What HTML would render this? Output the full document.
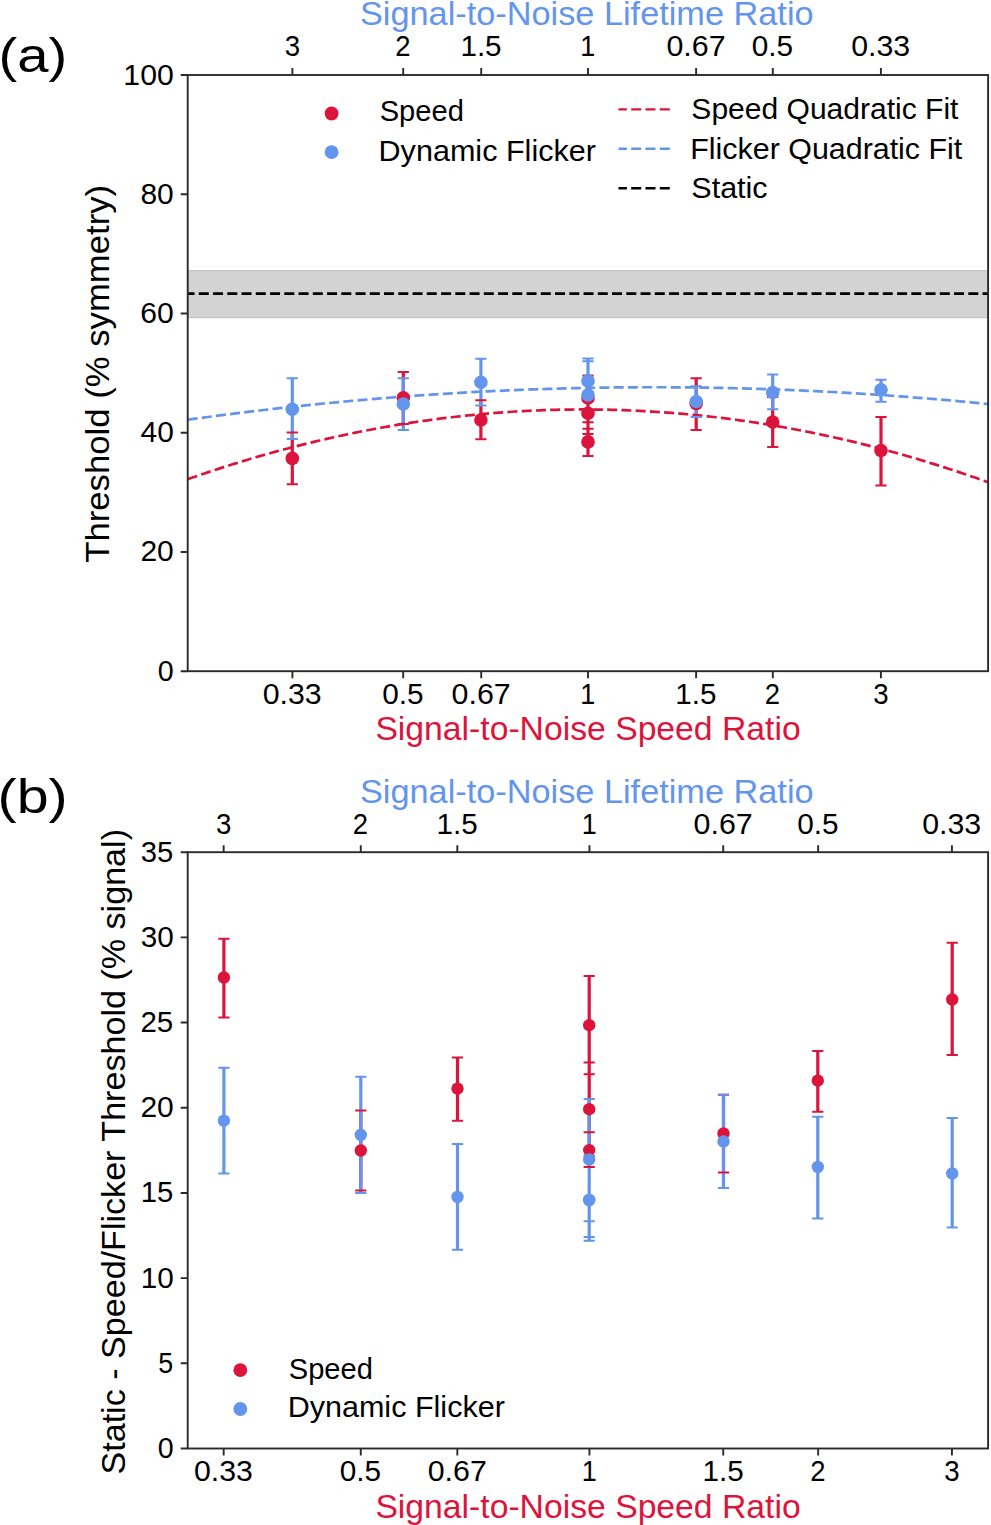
<!DOCTYPE html>
<html><head><meta charset="utf-8"><title>Threshold plots</title>
<style>
html,body{margin:0;padding:0;background:#fff;}
svg{display:block;}
text{font-family:"Liberation Sans",sans-serif;}
</style></head>
<body>
<svg width="991" height="1525" viewBox="0 0 991 1525">
<rect width="991" height="1525" fill="#fff"/>
<rect x="187.70" y="270.6" width="800.40" height="47.05" fill="#d3d3d3" stroke="#c4c4c4" stroke-width="1.2"/>
<clipPath id="ca"><rect x="187.70" y="75.00" width="800.40" height="596.20"/></clipPath>
<clipPath id="cb"><rect x="187.70" y="852.20" width="800.40" height="596.30"/></clipPath>
<g clip-path="url(#ca)">
<path d="M292.30,432.60V484.20M403.30,372.00V424.00M480.90,400.30V439.20M588.00,375.50V422.30M588.00,392.50V434.10M588.00,428.70V456.00M696.20,378.30V430.00M772.70,397.00V447.00M881.00,417.10V485.60" stroke="#dc143c" stroke-width="3.2" fill="none"/>
<path d="M292.30,378.20V439.00M403.30,378.30V430.00M480.90,358.80V405.60M588.00,358.60V400.00M588.00,361.20V401.00M696.20,386.20V417.00M772.70,374.50V409.30M881.00,379.70V401.70" stroke="#6495ed" stroke-width="3.2" fill="none"/>
<path d="M187.70,479.22L191.70,477.82L195.70,476.43L199.70,475.06L203.70,473.70L207.70,472.35L211.70,471.02L215.70,469.71L219.70,468.40L223.70,467.11L227.70,465.84L231.70,464.58L235.70,463.34L239.70,462.10L243.70,460.89L247.70,459.68L251.70,458.50L255.70,457.32L259.70,456.16L263.70,455.02L267.70,453.88L271.70,452.77L275.70,451.66L279.70,450.57L283.70,449.50L287.70,448.44L291.70,447.39L295.70,446.36L299.70,445.34L303.70,444.34L307.70,443.35L311.70,442.37L315.70,441.41L319.70,440.47L323.70,439.54L327.70,438.62L331.70,437.71L335.70,436.82L339.70,435.95L343.70,435.09L347.70,434.24L351.70,433.41L355.70,432.59L359.70,431.78L363.70,430.99L367.70,430.22L371.70,429.46L375.70,428.71L379.70,427.98L383.70,427.26L387.70,426.55L391.70,425.86L395.70,425.19L399.70,424.53L403.70,423.88L407.70,423.24L411.70,422.62L415.70,422.02L419.70,421.43L423.70,420.85L427.70,420.29L431.70,419.74L435.70,419.21L439.70,418.69L443.70,418.18L447.70,417.69L451.70,417.22L455.70,416.75L459.70,416.31L463.70,415.87L467.70,415.45L471.70,415.05L475.70,414.65L479.70,414.28L483.70,413.91L487.70,413.57L491.70,413.23L495.70,412.91L499.70,412.60L503.70,412.31L507.70,412.04L511.70,411.77L515.70,411.52L519.70,411.29L523.70,411.07L527.70,410.86L531.70,410.67L535.70,410.49L539.70,410.33L543.70,410.18L547.70,410.04L551.70,409.92L555.70,409.82L559.70,409.72L563.70,409.65L567.70,409.58L571.70,409.53L575.70,409.50L579.70,409.47L583.70,409.47L587.70,409.48L591.70,409.50L595.70,409.53L599.70,409.58L603.70,409.65L607.70,409.72L611.70,409.82L615.70,409.92L619.70,410.05L623.70,410.18L627.70,410.33L631.70,410.49L635.70,410.67L639.70,410.86L643.70,411.07L647.70,411.29L651.70,411.53L655.70,411.78L659.70,412.04L663.70,412.32L667.70,412.61L671.70,412.92L675.70,413.24L679.70,413.57L683.70,413.92L687.70,414.28L691.70,414.66L695.70,415.05L699.70,415.46L703.70,415.88L707.70,416.31L711.70,416.76L715.70,417.22L719.70,417.70L723.70,418.19L727.70,418.70L731.70,419.22L735.70,419.75L739.70,420.30L743.70,420.86L747.70,421.44L751.70,422.03L755.70,422.63L759.70,423.25L763.70,423.89L767.70,424.53L771.70,425.20L775.70,425.87L779.70,426.56L783.70,427.27L787.70,427.99L791.70,428.72L795.70,429.47L799.70,430.23L803.70,431.01L807.70,431.80L811.70,432.60L815.70,433.42L819.70,434.25L823.70,435.10L827.70,435.96L831.70,436.84L835.70,437.73L839.70,438.63L843.70,439.55L847.70,440.48L851.70,441.43L855.70,442.39L859.70,443.36L863.70,444.35L867.70,445.36L871.70,446.37L875.70,447.41L879.70,448.45L883.70,449.51L887.70,450.59L891.70,451.68L895.70,452.78L899.70,453.90L903.70,455.03L907.70,456.18L911.70,457.34L915.70,458.51L919.70,459.70L923.70,460.90L927.70,462.12L931.70,463.35L935.70,464.60L939.70,465.86L943.70,467.13L947.70,468.42L951.70,469.72L955.70,471.04L959.70,472.37L963.70,473.72L967.70,475.08L971.70,476.45L975.70,477.84L979.70,479.24L983.70,480.66L987.70,482.09" stroke="#dc143c" stroke-width="2.7" fill="none" stroke-dasharray="10 4.25"/>
<path d="M187.70,419.75L191.70,419.19L195.70,418.64L199.70,418.09L203.70,417.55L207.70,417.01L211.70,416.48L215.70,415.96L219.70,415.43L223.70,414.92L227.70,414.40L231.70,413.89L235.70,413.39L239.70,412.89L243.70,412.40L247.70,411.91L251.70,411.43L255.70,410.95L259.70,410.47L263.70,410.00L267.70,409.54L271.70,409.08L275.70,408.62L279.70,408.17L283.70,407.73L287.70,407.28L291.70,406.85L295.70,406.42L299.70,405.99L303.70,405.57L307.70,405.15L311.70,404.74L315.70,404.33L319.70,403.93L323.70,403.53L327.70,403.14L331.70,402.75L335.70,402.37L339.70,401.99L343.70,401.61L347.70,401.25L351.70,400.88L355.70,400.52L359.70,400.17L363.70,399.82L367.70,399.47L371.70,399.13L375.70,398.80L379.70,398.47L383.70,398.14L387.70,397.82L391.70,397.50L395.70,397.19L399.70,396.88L403.70,396.58L407.70,396.29L411.70,395.99L415.70,395.71L419.70,395.42L423.70,395.15L427.70,394.87L431.70,394.60L435.70,394.34L439.70,394.08L443.70,393.83L447.70,393.58L451.70,393.33L455.70,393.10L459.70,392.86L463.70,392.63L467.70,392.41L471.70,392.19L475.70,391.97L479.70,391.76L483.70,391.55L487.70,391.35L491.70,391.16L495.70,390.96L499.70,390.78L503.70,390.60L507.70,390.42L511.70,390.25L515.70,390.08L519.70,389.92L523.70,389.76L527.70,389.60L531.70,389.46L535.70,389.31L539.70,389.17L543.70,389.04L547.70,388.91L551.70,388.79L555.70,388.67L559.70,388.55L563.70,388.44L567.70,388.34L571.70,388.24L575.70,388.14L579.70,388.05L583.70,387.96L587.70,387.88L591.70,387.81L595.70,387.73L599.70,387.67L603.70,387.60L607.70,387.55L611.70,387.49L615.70,387.45L619.70,387.40L623.70,387.37L627.70,387.33L631.70,387.30L635.70,387.28L639.70,387.26L643.70,387.25L647.70,387.24L651.70,387.23L655.70,387.23L659.70,387.24L663.70,387.25L667.70,387.26L671.70,387.28L675.70,387.31L679.70,387.34L683.70,387.37L687.70,387.41L691.70,387.45L695.70,387.50L699.70,387.55L703.70,387.61L707.70,387.67L711.70,387.74L715.70,387.81L719.70,387.89L723.70,387.97L727.70,388.06L731.70,388.15L735.70,388.25L739.70,388.35L743.70,388.45L747.70,388.56L751.70,388.68L755.70,388.80L759.70,388.93L763.70,389.05L767.70,389.19L771.70,389.33L775.70,389.47L779.70,389.62L783.70,389.78L787.70,389.93L791.70,390.10L795.70,390.27L799.70,390.44L803.70,390.62L807.70,390.80L811.70,390.99L815.70,391.18L819.70,391.38L823.70,391.58L827.70,391.78L831.70,391.99L835.70,392.21L839.70,392.43L843.70,392.66L847.70,392.89L851.70,393.12L855.70,393.36L859.70,393.61L863.70,393.86L867.70,394.11L871.70,394.37L875.70,394.64L879.70,394.90L883.70,395.18L887.70,395.46L891.70,395.74L895.70,396.03L899.70,396.32L903.70,396.62L907.70,396.92L911.70,397.23L915.70,397.54L919.70,397.86L923.70,398.18L927.70,398.51L931.70,398.84L935.70,399.17L939.70,399.51L943.70,399.86L947.70,400.21L951.70,400.56L955.70,400.92L959.70,401.29L963.70,401.66L967.70,402.03L971.70,402.41L975.70,402.80L979.70,403.18L983.70,403.58L987.70,403.98" stroke="#6495ed" stroke-width="2.7" fill="none" stroke-dasharray="10 4.25"/>
<path d="M187.70,293.7H988.10" stroke="#000" stroke-width="2.8" fill="none" stroke-dasharray="10 4.25" stroke-dashoffset="3.15"/>
<path d="M286.70,432.60h11.20M286.70,484.20h11.20M397.70,372.00h11.20M397.70,424.00h11.20M475.30,400.30h11.20M475.30,439.20h11.20M582.40,375.50h11.20M582.40,422.30h11.20M582.40,392.50h11.20M582.40,434.10h11.20M582.40,428.70h11.20M582.40,456.00h11.20M690.60,378.30h11.20M690.60,430.00h11.20M767.10,397.00h11.20M767.10,447.00h11.20M875.40,417.10h11.20M875.40,485.60h11.20" stroke="#dc143c" stroke-width="2.0" fill="none"/>
<path d="M286.70,378.20h11.20M286.70,439.00h11.20M397.70,378.30h11.20M397.70,430.00h11.20M475.30,358.80h11.20M475.30,405.60h11.20M582.40,358.60h11.20M582.40,400.00h11.20M582.40,361.20h11.20M582.40,401.00h11.20M690.60,386.20h11.20M690.60,417.00h11.20M767.10,374.50h11.20M767.10,409.30h11.20M875.40,379.70h11.20M875.40,401.70h11.20" stroke="#6495ed" stroke-width="2.0" fill="none"/>
<circle cx="292.30" cy="458.40" r="6.8" fill="#dc143c"/><circle cx="403.30" cy="397.70" r="6.8" fill="#dc143c"/><circle cx="480.90" cy="420.00" r="6.8" fill="#dc143c"/><circle cx="588.00" cy="398.00" r="6.8" fill="#dc143c"/><circle cx="588.00" cy="413.30" r="6.8" fill="#dc143c"/><circle cx="588.00" cy="441.90" r="6.8" fill="#dc143c"/><circle cx="696.20" cy="403.50" r="6.8" fill="#dc143c"/><circle cx="772.70" cy="422.00" r="6.8" fill="#dc143c"/><circle cx="881.00" cy="450.50" r="6.8" fill="#dc143c"/>
<circle cx="292.30" cy="409.30" r="6.8" fill="#6495ed"/><circle cx="403.30" cy="404.00" r="6.8" fill="#6495ed"/><circle cx="480.90" cy="382.20" r="6.8" fill="#6495ed"/><circle cx="588.00" cy="380.90" r="6.8" fill="#6495ed"/><circle cx="588.00" cy="395.00" r="6.8" fill="#6495ed"/><circle cx="696.20" cy="401.50" r="6.8" fill="#6495ed"/><circle cx="772.70" cy="392.50" r="6.8" fill="#6495ed"/><circle cx="881.00" cy="389.70" r="6.8" fill="#6495ed"/>
</g>
<rect x="187.70" y="75.00" width="800.40" height="596.20" fill="none" stroke="#2a2a2a" stroke-width="1.9" stroke-linecap="square"/>
<path d="M292.41,671.20v7.0M403.19,671.20v7.0M481.22,671.20v7.0M588.00,671.20v7.0M696.11,671.20v7.0M772.81,671.20v7.0M880.91,671.20v7.0M292.41,75.00v-7.0M403.19,75.00v-7.0M481.22,75.00v-7.0M588.00,75.00v-7.0M696.11,75.00v-7.0M772.81,75.00v-7.0M880.91,75.00v-7.0M187.70,671.20h-7.0M187.70,551.96h-7.0M187.70,432.72h-7.0M187.70,313.48h-7.0M187.70,194.24h-7.0M187.70,75.00h-7.0" stroke="#2a2a2a" stroke-width="1.9" fill="none"/>
<text x="262.75" y="704.00" font-size="30.30" fill="#000" textLength="58.96" lengthAdjust="spacingAndGlyphs">0.33</text>
<text x="382.18" y="704.00" font-size="30.30" fill="#000" textLength="41.39" lengthAdjust="spacingAndGlyphs">0.5</text>
<text x="451.56" y="704.00" font-size="30.30" fill="#000" textLength="59.15" lengthAdjust="spacingAndGlyphs">0.67</text>
<text x="580.35" y="704.00" font-size="30.30" fill="#000" textLength="15.02" lengthAdjust="spacingAndGlyphs">1</text>
<text x="675.32" y="704.00" font-size="30.30" fill="#000" textLength="41.16" lengthAdjust="spacingAndGlyphs">1.5</text>
<text x="764.80" y="704.00" font-size="30.30" fill="#000" textLength="15.28" lengthAdjust="spacingAndGlyphs">2</text>
<text x="873.18" y="704.00" font-size="30.30" fill="#000" textLength="15.37" lengthAdjust="spacingAndGlyphs">3</text>
<text x="284.67" y="56.30" font-size="30.30" fill="#000" textLength="15.37" lengthAdjust="spacingAndGlyphs">3</text>
<text x="395.19" y="56.30" font-size="30.30" fill="#000" textLength="15.28" lengthAdjust="spacingAndGlyphs">2</text>
<text x="460.43" y="56.30" font-size="30.30" fill="#000" textLength="41.16" lengthAdjust="spacingAndGlyphs">1.5</text>
<text x="580.35" y="56.30" font-size="30.30" fill="#000" textLength="15.02" lengthAdjust="spacingAndGlyphs">1</text>
<text x="666.44" y="56.30" font-size="30.30" fill="#000" textLength="59.15" lengthAdjust="spacingAndGlyphs">0.67</text>
<text x="751.80" y="56.30" font-size="30.30" fill="#000" textLength="41.39" lengthAdjust="spacingAndGlyphs">0.5</text>
<text x="851.25" y="56.30" font-size="30.30" fill="#000" textLength="58.96" lengthAdjust="spacingAndGlyphs">0.33</text>
<text x="157.75" y="680.70" font-size="30.30" fill="#000" textLength="15.93" lengthAdjust="spacingAndGlyphs">0</text>
<text x="140.38" y="561.46" font-size="30.30" fill="#000" textLength="33.37" lengthAdjust="spacingAndGlyphs">20</text>
<text x="140.54" y="442.22" font-size="30.30" fill="#000" textLength="33.21" lengthAdjust="spacingAndGlyphs">40</text>
<text x="140.25" y="322.98" font-size="30.30" fill="#000" textLength="33.51" lengthAdjust="spacingAndGlyphs">60</text>
<text x="140.41" y="203.74" font-size="30.30" fill="#000" textLength="33.34" lengthAdjust="spacingAndGlyphs">80</text>
<text x="123.36" y="84.50" font-size="30.30" fill="#000" textLength="50.43" lengthAdjust="spacingAndGlyphs">100</text>
<text x="359.96" y="25.30" font-size="34.00" fill="#6495ed" textLength="453.63" lengthAdjust="spacingAndGlyphs">Signal-to-Noise Lifetime Ratio</text>
<text x="375.38" y="740.30" font-size="34.00" fill="#dc143c" textLength="425.29" lengthAdjust="spacingAndGlyphs">Signal-to-Noise Speed Ratio</text>
<text transform="translate(108.80,562.79) rotate(-90)" x="0" y="0" font-size="34.00" fill="#000" textLength="377.91" lengthAdjust="spacingAndGlyphs">Threshold (% symmetry)</text>
<text x="-1.57" y="72.00" font-size="48.30" fill="#000" textLength="68.67" lengthAdjust="spacingAndGlyphs">(a)</text>
<circle cx="331.6" cy="113.5" r="6.9" fill="#dc143c"/>
<circle cx="331.6" cy="152.2" r="6.9" fill="#6495ed"/>
<text x="379.69" y="121.40" font-size="30.30" fill="#000" textLength="84.13" lengthAdjust="spacingAndGlyphs">Speed</text>
<text x="378.55" y="160.50" font-size="30.30" fill="#000" textLength="217.37" lengthAdjust="spacingAndGlyphs">Dynamic Flicker</text>
<path d="M618.5,109.4H670.5" stroke="#dc143c" stroke-width="2.4" stroke-dasharray="10 4.3" stroke-dashoffset="1.6"/>
<path d="M618.5,148.8H670.5" stroke="#6495ed" stroke-width="2.4" stroke-dasharray="10 4.3" stroke-dashoffset="1.6"/>
<path d="M618.5,188.2H670.5" stroke="#000" stroke-width="2.4" stroke-dasharray="10 4.3" stroke-dashoffset="1.6"/>
<text x="691.35" y="119.20" font-size="30.30" fill="#000" textLength="267.11" lengthAdjust="spacingAndGlyphs">Speed Quadratic Fit</text>
<text x="690.27" y="159.40" font-size="30.30" fill="#000" textLength="272.03" lengthAdjust="spacingAndGlyphs">Flicker Quadratic Fit</text>
<text x="691.33" y="198.00" font-size="30.30" fill="#000" textLength="76.29" lengthAdjust="spacingAndGlyphs">Static</text>
<g clip-path="url(#cb)">
<path d="M223.90,938.70V1017.50M360.80,1110.50V1190.50M457.50,1057.60V1120.80M589.20,976.00V1074.20M589.20,1062.60V1155.80M589.20,1132.20V1166.90M723.50,1094.80V1172.50M817.80,1051.10V1111.70M952.20,942.80V1055.00" stroke="#dc143c" stroke-width="3.2" fill="none"/>
<path d="M223.90,1067.80V1173.40M360.80,1076.80V1193.00M457.50,1143.90V1249.70M589.20,1098.90V1221.30M589.20,1159.30V1240.70M589.20,1200.00V1236.90M723.50,1094.80V1188.00M817.80,1116.80V1218.50M952.20,1118.00V1227.60" stroke="#6495ed" stroke-width="3.2" fill="none"/>
<path d="M218.30,938.70h11.20M218.30,1017.50h11.20M355.20,1110.50h11.20M355.20,1190.50h11.20M451.90,1057.60h11.20M451.90,1120.80h11.20M583.60,976.00h11.20M583.60,1074.20h11.20M583.60,1062.60h11.20M583.60,1155.80h11.20M583.60,1132.20h11.20M583.60,1166.90h11.20M717.90,1094.80h11.20M717.90,1172.50h11.20M812.20,1051.10h11.20M812.20,1111.70h11.20M946.60,942.80h11.20M946.60,1055.00h11.20" stroke="#dc143c" stroke-width="2.0" fill="none"/>
<path d="M218.30,1067.80h11.20M218.30,1173.40h11.20M355.20,1076.80h11.20M355.20,1193.00h11.20M451.90,1143.90h11.20M451.90,1249.70h11.20M583.60,1098.90h11.20M583.60,1221.30h11.20M583.60,1159.30h11.20M583.60,1240.70h11.20M583.60,1236.90h11.20M717.90,1094.80h11.20M717.90,1188.00h11.20M812.20,1116.80h11.20M812.20,1218.50h11.20M946.60,1118.00h11.20M946.60,1227.60h11.20" stroke="#6495ed" stroke-width="2.0" fill="none"/>
<circle cx="223.90" cy="977.50" r="6.2" fill="#dc143c"/><circle cx="360.80" cy="1150.50" r="6.2" fill="#dc143c"/><circle cx="457.50" cy="1088.60" r="6.2" fill="#dc143c"/><circle cx="589.20" cy="1025.20" r="6.2" fill="#dc143c"/><circle cx="589.20" cy="1109.20" r="6.2" fill="#dc143c"/><circle cx="589.20" cy="1150.10" r="6.2" fill="#dc143c"/><circle cx="723.50" cy="1133.50" r="6.2" fill="#dc143c"/><circle cx="817.80" cy="1080.70" r="6.2" fill="#dc143c"/><circle cx="952.20" cy="999.50" r="6.2" fill="#dc143c"/>
<circle cx="223.90" cy="1120.60" r="6.2" fill="#6495ed"/><circle cx="360.80" cy="1134.80" r="6.2" fill="#6495ed"/><circle cx="457.50" cy="1197.00" r="6.2" fill="#6495ed"/><circle cx="589.20" cy="1159.50" r="6.2" fill="#6495ed"/><circle cx="589.20" cy="1200.00" r="6.2" fill="#6495ed"/><circle cx="589.20" cy="1200.00" r="6.2" fill="#6495ed"/><circle cx="723.50" cy="1141.50" r="6.2" fill="#6495ed"/><circle cx="817.80" cy="1167.00" r="6.2" fill="#6495ed"/><circle cx="952.20" cy="1173.50" r="6.2" fill="#6495ed"/>
</g>
<rect x="187.70" y="852.20" width="800.40" height="596.30" fill="none" stroke="#2a2a2a" stroke-width="1.9" stroke-linecap="square"/>
<path d="M223.67,1448.50v7.0M360.76,1448.50v7.0M457.32,1448.50v7.0M589.45,1448.50v7.0M723.23,1448.50v7.0M818.14,1448.50v7.0M951.92,1448.50v7.0M223.67,852.20v-7.0M360.76,852.20v-7.0M457.32,852.20v-7.0M589.45,852.20v-7.0M723.23,852.20v-7.0M818.14,852.20v-7.0M951.92,852.20v-7.0M187.70,1448.50h-7.0M187.70,1363.31h-7.0M187.70,1278.13h-7.0M187.70,1192.94h-7.0M187.70,1107.76h-7.0M187.70,1022.57h-7.0M187.70,937.39h-7.0M187.70,852.20h-7.0" stroke="#2a2a2a" stroke-width="1.9" fill="none"/>
<text x="194.01" y="1481.30" font-size="30.30" fill="#000" textLength="58.96" lengthAdjust="spacingAndGlyphs">0.33</text>
<text x="339.75" y="1481.30" font-size="30.30" fill="#000" textLength="41.39" lengthAdjust="spacingAndGlyphs">0.5</text>
<text x="427.66" y="1481.30" font-size="30.30" fill="#000" textLength="59.15" lengthAdjust="spacingAndGlyphs">0.67</text>
<text x="581.80" y="1481.30" font-size="30.30" fill="#000" textLength="15.02" lengthAdjust="spacingAndGlyphs">1</text>
<text x="702.44" y="1481.30" font-size="30.30" fill="#000" textLength="41.16" lengthAdjust="spacingAndGlyphs">1.5</text>
<text x="810.14" y="1481.30" font-size="30.30" fill="#000" textLength="15.28" lengthAdjust="spacingAndGlyphs">2</text>
<text x="944.18" y="1481.30" font-size="30.30" fill="#000" textLength="15.37" lengthAdjust="spacingAndGlyphs">3</text>
<text x="215.93" y="833.60" font-size="30.30" fill="#000" textLength="15.37" lengthAdjust="spacingAndGlyphs">3</text>
<text x="352.76" y="833.60" font-size="30.30" fill="#000" textLength="15.28" lengthAdjust="spacingAndGlyphs">2</text>
<text x="436.53" y="833.60" font-size="30.30" fill="#000" textLength="41.16" lengthAdjust="spacingAndGlyphs">1.5</text>
<text x="581.80" y="833.60" font-size="30.30" fill="#000" textLength="15.02" lengthAdjust="spacingAndGlyphs">1</text>
<text x="693.56" y="833.60" font-size="30.30" fill="#000" textLength="59.15" lengthAdjust="spacingAndGlyphs">0.67</text>
<text x="797.13" y="833.60" font-size="30.30" fill="#000" textLength="41.39" lengthAdjust="spacingAndGlyphs">0.5</text>
<text x="922.26" y="833.60" font-size="30.30" fill="#000" textLength="58.96" lengthAdjust="spacingAndGlyphs">0.33</text>
<text x="157.75" y="1458.00" font-size="30.30" fill="#000" textLength="15.93" lengthAdjust="spacingAndGlyphs">0</text>
<text x="158.19" y="1372.81" font-size="30.30" fill="#000" textLength="14.93" lengthAdjust="spacingAndGlyphs">5</text>
<text x="140.65" y="1287.63" font-size="30.30" fill="#000" textLength="33.09" lengthAdjust="spacingAndGlyphs">10</text>
<text x="140.69" y="1202.44" font-size="30.30" fill="#000" textLength="32.56" lengthAdjust="spacingAndGlyphs">15</text>
<text x="140.38" y="1117.26" font-size="30.30" fill="#000" textLength="33.37" lengthAdjust="spacingAndGlyphs">20</text>
<text x="140.41" y="1032.07" font-size="30.30" fill="#000" textLength="32.85" lengthAdjust="spacingAndGlyphs">25</text>
<text x="140.70" y="946.89" font-size="30.30" fill="#000" textLength="33.05" lengthAdjust="spacingAndGlyphs">30</text>
<text x="140.71" y="861.70" font-size="30.30" fill="#000" textLength="32.53" lengthAdjust="spacingAndGlyphs">35</text>
<text x="359.96" y="802.70" font-size="34.00" fill="#6495ed" textLength="453.63" lengthAdjust="spacingAndGlyphs">Signal-to-Noise Lifetime Ratio</text>
<text x="375.38" y="1517.70" font-size="34.00" fill="#dc143c" textLength="425.29" lengthAdjust="spacingAndGlyphs">Signal-to-Noise Speed Ratio</text>
<text transform="translate(125.30,1474.53) rotate(-90)" x="0" y="0" font-size="34.00" fill="#000" textLength="645.52" lengthAdjust="spacingAndGlyphs">Static - Speed/Flicker Threshold (% signal)</text>
<text x="-2.44" y="812.90" font-size="48.30" fill="#000" textLength="70.11" lengthAdjust="spacingAndGlyphs">(b)</text>
<circle cx="240.3" cy="1370.2" r="6.9" fill="#dc143c"/>
<circle cx="240.3" cy="1409.0" r="6.9" fill="#6495ed"/>
<text x="288.79" y="1378.60" font-size="30.30" fill="#000" textLength="84.13" lengthAdjust="spacingAndGlyphs">Speed</text>
<text x="287.66" y="1417.40" font-size="30.30" fill="#000" textLength="217.16" lengthAdjust="spacingAndGlyphs">Dynamic Flicker</text>
</svg>
</body></html>
